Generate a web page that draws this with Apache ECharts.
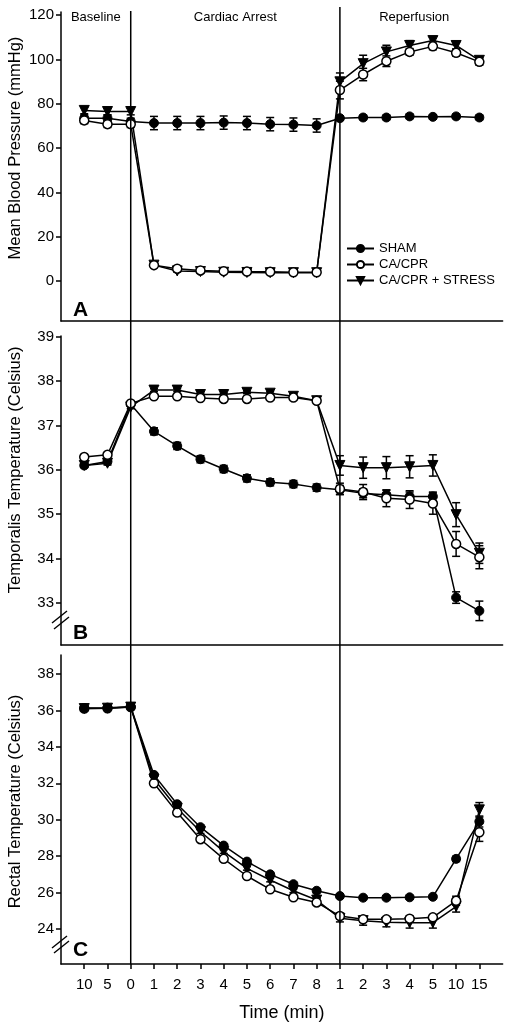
<!DOCTYPE html>
<html><head><meta charset="utf-8">
<script src="https://cdn.jsdelivr.net/npm/echarts@6/dist/echarts.min.js"></script>
<style>html,body{margin:0;padding:0;background:#fff}#c{width:510px;height:1030px}</style>
</head><body><div id="c"></div>
<script>
// ---- data ----
const categories = ['10','5','0','1','2','3','4','5','6','7','8','1','2','3','4','5','10','15'];
const groups = ['SHAM','CA/CPR','CA/CPR + STRESS'];
const sectionLabels = ['Baseline','Cardiac Arrest','Reperfusion'];
const panelLetters = ['A','B','C'];
const yTitles = ['Mean Blood Pressure (mmHg)','Temporalis Temperature (Celsius)','Rectal Temperature (Celsius)'];
const xTitle = 'Time (min)';

const ticksA = [0,20,40,60,80,100,120];
const ticksB = [33,34,35,36,37,38,39];
const ticksC = [24,26,28,30,32,34,36,38];

// Panel A: Mean blood pressure
const mapSham   = [73.5,73.5,72.0,71.3,71.3,71.3,71.5,71.3,70.8,70.6,70.2,73.5,73.8,73.8,74.3,74.1,74.3,73.8];
const mapCa     = [72.5,70.8,70.8,7.2,5.6,4.8,4.5,4.3,4.2,4.0,4.0,86.2,93.2,99.2,103.4,105.9,103.0,98.9];
const mapStress = [77.0,76.5,76.5,7.2,4.6,4.3,4.0,3.9,3.8,3.8,3.8,89.9,98.1,103.4,106.3,108.5,106.3,99.6];
const mapShamErr   = [1.5,1.5,1.5,3,3,3,3,3,3,3,3,1,1,1,1,1,1,1];
const mapCaErr     = [1.5,1.5,1.5,1,1,1,1,1,1,1,1,4,2.8,2.4,1.5,1.5,1.5,1.5];
const mapStressErr = [1.5,1.5,1.5,0.5,0.5,0.5,0.5,0.5,0.5,0.5,0.5,4,3.8,3,2.2,1.8,1.5,1.5];

// Panel B: Temporalis temperature
const tempSham   = [36.10,36.19,37.48,36.87,36.54,36.24,36.02,35.81,35.72,35.68,35.60,35.55,35.47,35.44,35.40,35.40,33.12,32.82];
const tempCa     = [36.29,36.34,37.50,37.66,37.66,37.62,37.60,37.60,37.63,37.63,37.56,35.57,35.50,35.36,35.33,35.24,34.33,34.03];
const tempStress = [36.10,36.15,37.42,37.80,37.80,37.70,37.70,37.75,37.73,37.66,37.56,36.10,36.05,36.05,36.07,36.10,34.99,34.12];
const tempShamErr   = [0.05,0.05,0.05,0.08,0.08,0.08,0.08,0.08,0.08,0.08,0.08,0.1,0.1,0.1,0.1,0.1,0.13,0.22];
const tempCaErr     = [0.04,0.04,0.04,0.03,0.03,0.03,0.03,0.03,0.03,0.03,0.03,0.13,0.17,0.19,0.2,0.24,0.28,0.26];
const tempStressErr = [0.04,0.04,0.04,0.03,0.03,0.03,0.03,0.03,0.03,0.03,0.03,0.22,0.24,0.25,0.25,0.24,0.27,0.23];

// Panel C: Rectal temperature
const rectSham   = [36.13,36.15,36.20,32.46,30.85,29.59,28.58,27.70,27.00,26.46,26.10,25.81,25.72,25.72,25.74,25.77,27.85,29.90];
const rectCa     = [36.10,36.12,36.18,32.00,30.39,28.93,27.85,26.91,26.18,25.74,25.46,24.71,24.53,24.53,24.57,24.64,25.55,29.31];
const rectStress = [36.10,36.12,36.18,32.23,30.63,29.35,28.25,27.33,26.69,26.10,25.59,24.59,24.46,24.37,24.35,24.35,25.23,30.54];
const rectShamErr   = [0.1,0.1,0.1,0.1,0.1,0.1,0.1,0.1,0.1,0.1,0.1,0.1,0.1,0.1,0.1,0.1,0.15,0.3];
const rectCaErr     = [0.1,0.1,0.1,0.1,0.1,0.1,0.1,0.1,0.1,0.1,0.1,0.15,0.15,0.15,0.15,0.15,0.25,0.5];
const rectStressErr = [0.1,0.1,0.1,0.1,0.1,0.1,0.1,0.1,0.1,0.1,0.1,0.2,0.25,0.25,0.3,0.3,0.3,0.4];

// section boundaries (category indices)
const boundaries = [2, 11];

// ---- chart ----
const FONT = '"Liberation Sans", Arial, Helvetica, sans-serif';
const chart = echarts.init(document.getElementById('c'), null, {renderer: 'canvas'});
const xIdx = categories.map((c, i) => i);
const gridTops = [12, 336, 655];
const gridH = 309;
const yRanges = [[-18, 121.4], [32.05, 39.02], [22.08, 39.04]];
const yTicks = [ticksA, ticksB, ticksC];

const grids = gridTops.map(t => ({left: 61, right: 7.4, top: t, height: gridH, containLabel: false, outerBoundsMode: 'none'}));

const xAxes = [0, 1, 2].map(g => ({
  type: 'value', gridIndex: g, min: -1, max: 18, interval: 1,
  axisLine: {show: true, onZero: false, lineStyle: {color: '#000', width: 1.5}},
  axisTick: {show: g === 2, customValues: xIdx, length: 5, lineStyle: {color: '#000', width: 1.5}},
  axisLabel: {show: g === 2, customValues: xIdx, formatter: v => categories[v] ?? '',
    color: '#000', fontSize: 15, fontFamily: FONT, margin: 13},
  splitLine: {show: false},
  name: g === 2 ? xTitle : '', nameLocation: 'middle', nameGap: 40,
  nameTextStyle: {color: '#000', fontSize: 18, fontFamily: FONT}
}));

const yAxes = [0, 1, 2].map(g => ({
  type: 'value', gridIndex: g, min: yRanges[g][0], max: yRanges[g][1],
  axisLine: {show: true, onZero: false, lineStyle: {color: '#000', width: 1.5}},
  axisTick: {show: true, customValues: yTicks[g], length: 5, lineStyle: {color: '#000', width: 1.5}},
  axisLabel: {show: true, customValues: yTicks[g], color: '#000', fontSize: 15, fontFamily: FONT, margin: 7},
  splitLine: {show: false}
}));

function errSeries(g, vals, errs) {
  return {
    type: 'custom', xAxisIndex: g, yAxisIndex: g, z: 2, silent: true,
    data: vals.map((v, i) => [i, v - errs[i], v + errs[i]]),
    encode: {x: 0, y: [1, 2]},
    renderItem: (params, api) => {
      const lo = api.coord([api.value(0), api.value(1)]);
      const hi = api.coord([api.value(0), api.value(2)]);
      const w = 4;
      const st = {stroke: '#000', lineWidth: 1.5};
      return {type: 'group', children: [
        {type: 'line', shape: {x1: lo[0], y1: lo[1], x2: hi[0], y2: hi[1]}, style: st},
        {type: 'line', shape: {x1: lo[0] - w, y1: lo[1], x2: lo[0] + w, y2: lo[1]}, style: st},
        {type: 'line', shape: {x1: hi[0] - w, y1: hi[1], x2: hi[0] + w, y2: hi[1]}, style: st}
      ]};
    }
  };
}

function lineSeries(g, k, vals) {
  const s = {
    type: 'line', name: groups[k], xAxisIndex: g, yAxisIndex: g, z: 3 + k,
    data: vals.map((v, i) => [i, v]), showSymbol: true, symbol: 'circle', symbolSize: 9,
    lineStyle: {color: '#000', width: 1.5},
    itemStyle: {color: '#000', borderColor: '#000', borderWidth: 1}
  };
  if (k === 0 && g === 2) s.z = 6;
  if (k === 1) { s.itemStyle = {color: '#fff', borderColor: '#000', borderWidth: 1.5}; s.z = 5; }
  if (k === 2) { s.symbol = 'triangle'; s.symbolRotate = 180; s.symbolSize = 10; s.z = 4; }
  return s;
}

const panelData = [
  [[mapSham, mapShamErr], [mapCa, mapCaErr], [mapStress, mapStressErr]],
  [[tempSham, tempShamErr], [tempCa, tempCaErr], [tempStress, tempStressErr]],
  [[rectSham, rectShamErr], [rectCa, rectCaErr], [rectStress, rectStressErr]]
];

const series = [];
panelData.forEach((pd, g) => {
  pd.forEach((d, k) => series.push(errSeries(g, d[0], d[1])));
  pd.forEach((d, k) => series.push(lineSeries(g, k, d[0])));
});

chart.setOption({
  animation: false,
  backgroundColor: '#fff',
  grid: grids, xAxis: xAxes, yAxis: yAxes, series,
  legend: {
    data: groups, orient: 'vertical', left: 341, top: 237, itemWidth: 27, itemHeight: 9, itemGap: 3,
    selectedMode: false, textStyle: {fontSize: 13, color: '#000', fontFamily: FONT}
  }
});

// decorations
const xb = boundaries.map(b => chart.convertToPixel({xAxisIndex: 0}, b));
const x0 = chart.convertToPixel({xAxisIndex: 0}, -1);
const x1 = chart.convertToPixel({xAxisIndex: 0}, 18);
const bottomC = gridTops[2] + gridH;
const graphics = [];
graphics.push({type: 'line', shape: {x1: xb[0], y1: 11, x2: xb[0], y2: bottomC}, style: {stroke: '#000', lineWidth: 1.5}, z: 10});
graphics.push({type: 'line', shape: {x1: xb[1], y1: 7, x2: xb[1], y2: bottomC}, style: {stroke: '#000', lineWidth: 1.5}, z: 10});
const secCenters = [(x0 + xb[0]) / 2, (xb[0] + xb[1]) / 2, (xb[1] + x1) / 2 - 7];
sectionLabels.forEach((t, i) => graphics.push({type: 'text', x: secCenters[i], y: 17, z: 10,
  style: {text: t, fill: '#000', font: '13px ' + FONT, textAlign: 'center', textVerticalAlign: 'middle'}}));
// y-axis titles, centred on the tick range of each panel
yTicks.forEach((tk, g) => {
  const ya = chart.convertToPixel({yAxisIndex: g}, tk[0]);
  const yb = chart.convertToPixel({yAxisIndex: g}, tk[tk.length - 1]);
  graphics.push({type: 'text', x: 15, y: (ya + yb) / 2, rotation: Math.PI / 2, z: 10,
    style: {text: yTitles[g], fill: '#000', font: '16.5px ' + FONT, textAlign: 'center', textVerticalAlign: 'middle'}});
});
const letterY = [310, 633, 950];
panelLetters.forEach((t, i) => graphics.push({type: 'text', x: 73, y: letterY[i], z: 10,
  style: {text: t, fill: '#000', font: 'bold 21px ' + FONT, textAlign: 'left', textVerticalAlign: 'middle'}}));
// axis break marks on panels B and C
[[623, 611, 629, 617], [948, 936, 953, 941]].forEach(b => {
  graphics.push({type: 'line', shape: {x1: 52, y1: b[0], x2: 67, y2: b[1]}, style: {stroke: '#000', lineWidth: 1.5}, z: 10});
  graphics.push({type: 'line', shape: {x1: 54, y1: b[2], x2: 69, y2: b[3]}, style: {stroke: '#000', lineWidth: 1.5}, z: 10});
});
chart.setOption({graphic: graphics});
</script>
</body></html>
